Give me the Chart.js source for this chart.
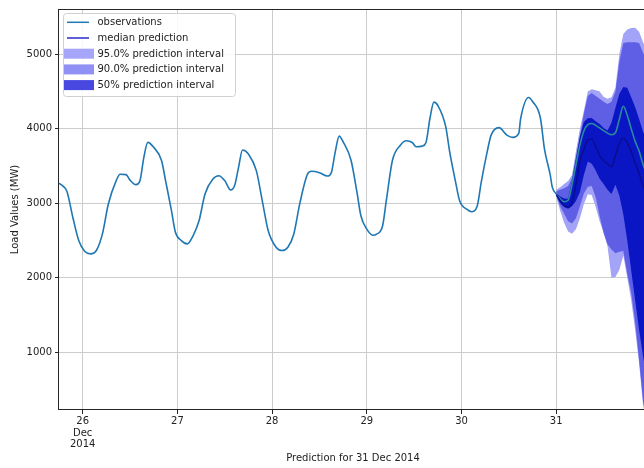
<!DOCTYPE html>
<html>
<head>
<meta charset="utf-8">
<script src="https://cdn.jsdelivr.net/npm/chart.js@4.4.0/dist/chart.umd.min.js"></script>
<style>
  html, body { margin: 0; padding: 0; background: #fff; overflow: hidden; }
  #wrap { width: 644px; height: 468px; overflow: hidden; }
  canvas { display: block; }
</style>
</head>
<body>
<div id="wrap"><canvas id="chart" width="656" height="468"></canvas></div>
<script>
// hours counted from 26 Dec 2014 00:00
const obsHours = [-6, -5, -4, -2.5, -1, 0.5, 2, 3.5, 5, 6.5, 8.5, 9.5, 11, 12, 13.5, 14.5, 15.5, 16.5, 18, 20,
  21, 22.5, 23.5, 25, 26.5, 28, 29.5, 31, 33, 34.5, 36, 37.5, 38.5, 39.5, 40.5, 42, 44, 45.5, 47, 49,
  50.5, 52, 53.5, 55, 57, 58, 60, 62, 63, 64, 65, 66, 68, 69.5, 70.5, 72, 73.5, 74.5, 76, 77,
  78.5, 80.5, 82, 83.5, 84.5, 86, 87, 88, 89, 90, 92, 93, 94.5, 95.5, 97.5, 98.5, 100, 101, 102.5, 103.5,
  105.5, 107.5, 109, 110.5, 111, 113, 114, 116, 117, 118.5, 119, 120,
  121, 122, 123, 124, 125, 126, 127, 128, 129, 130, 131, 132, 133, 134, 135, 136, 137, 138, 139, 140, 141, 142, 143];
const obsLoad = [3268, 3230, 3160, 2812, 2500, 2357, 2321, 2370, 2589, 2990, 3304, 3390, 3384, 3310, 3250, 3300, 3616, 3817, 3750, 3571,
  3304, 2902, 2612, 2500, 2455, 2567, 2768, 3125, 3326, 3370, 3304, 3178, 3237, 3482, 3714, 3661, 3438, 3036, 2634, 2411,
  2366, 2411, 2589, 2991, 3393, 3429, 3410, 3365, 3410, 3689, 3901, 3824, 3577, 3149, 2833, 2653, 2572, 2586, 2698, 3059,
  3577, 3779, 3838, 3815, 3757, 3766, 3815, 4140, 4356, 4311, 4027, 3689, 3284, 3036, 2914, 2887, 2968, 3284, 3689, 3914,
  4014, 3914, 3883, 3937, 4140, 4419, 4365, 4140, 3734, 3374, 3216, 3126,
  3060, 3020, 3040, 3250, 3520, 3780, 3970, 4055, 4070, 4045, 4010, 3975, 3940, 3918, 3945, 4130, 4300, 4180, 4000, 3830, 3700, 3520, 3380];

const bandHours = [120, 121, 122, 123, 124, 125, 126, 127, 128, 129, 130, 131, 132, 133, 134, 135, 136, 137, 138, 139, 140, 141, 142, 143];
const median = [3116, 3040, 2970, 2950, 3010, 3250, 3560, 3720, 3850, 3860, 3760, 3640, 3570, 3530, 3490, 3640, 3800, 3880, 3810, 3690, 3540, 3400, 3240, 3100];
const up95 = [3180, 3215, 3260, 3300, 3380, 3700, 4000, 4240, 4500, 4530, 4515, 4500, 4430, 4400, 4420, 4550, 5000, 5270, 5330, 5350, 5355, 5300, 5160, 5050];
const up90 = [3160, 3180, 3200, 3230, 3340, 3620, 3900, 4200, 4440, 4480, 4440, 4400, 4360, 4330, 4360, 4500, 4900, 5150, 5160, 5160, 5160, 5150, 5020, 4900];
const up50 = [3134, 3090, 3065, 3060, 3300, 3600, 3900, 4090, 4140, 4145, 4100, 4063, 4010, 3975, 4080, 4280, 4470, 4560, 4550, 4420, 4290, 4130, 3960, 3840];
const lo50 = [3100, 3000, 2950, 2925, 2960, 3030, 3150, 3380, 3560, 3530, 3440, 3330, 3260, 3180, 3126, 3250, 3100, 2850, 2500, 2100, 1700, 1300, 950, 650];
const lo90 = [3110, 2960, 2860, 2760, 2730, 2800, 2960, 3130, 3220, 3230, 3080, 2830, 2600, 2450, 2380, 2330, 2350, 2360, 2050, 1800, 1400, 900, 350, 50];
const lo95 = [3080, 2900, 2740, 2620, 2590, 2650, 2800, 2990, 3120, 3110, 2950, 2760, 2610, 2420, 2000, 2010, 2110, 2300, 2000, 1700, 1300, 850, 300, 0];

const tickHours = [0, 24, 48, 72, 96, 120];
const tickDays = ['26', '27', '28', '29', '30', '31'];
const firstTickExtra = ['Dec', '2014'];
const yTicks = [1000, 2000, 3000, 4000, 5000];
const legendLabels = ['observations', 'median prediction', '95.0% prediction interval', '90.0% prediction interval', '50% prediction interval'];

const FONT = '"DejaVu Sans", sans-serif';
const obsBlue = '#1f77b4';
const obsTeal = '#2a8a9e';
const medColor = '#0c0c8c';
const medLegend = '#2a2acc';
const band95 = '#a3a3f7', band90 = '#5f5fe6', band50 = '#0a16c4';
const leg95 = '#a5a5fa', leg90 = '#9090f5', leg50 = '#4848e0';

const pts = (xs, ys) => xs.map((x, i) => ({ x: x, y: ys[i] }));

// spines on top of the data
const framePlugin = {
  id: 'frame',
  afterDatasetsDraw(chart) {
    const { ctx, chartArea: a } = chart;
    ctx.save();
    ctx.strokeStyle = '#262626';
    ctx.lineWidth = 1;
    ctx.strokeRect(Math.round(a.left) - 0.5, Math.round(a.top) + 0.5, Math.round(a.right - a.left) + 1, Math.round(a.bottom - a.top) - 1);
    ctx.restore();
  }
};

// legend box drawn inside the plot, upper left
const legendPlugin = {
  id: 'boxLegend',
  afterDraw(chart) {
    const ctx = chart.ctx;
    ctx.save();
    const x = 63.5, y = 13.5, w = 172, h = 83, r = 3;
    ctx.beginPath();
    ctx.moveTo(x + r, y);
    ctx.arcTo(x + w, y, x + w, y + h, r);
    ctx.arcTo(x + w, y + h, x, y + h, r);
    ctx.arcTo(x, y + h, x, y, r);
    ctx.arcTo(x, y, x + w, y, r);
    ctx.closePath();
    ctx.fillStyle = 'rgba(255,255,255,0.85)';
    ctx.fill();
    ctx.strokeStyle = '#d0d0d0';
    ctx.lineWidth = 1;
    ctx.stroke();

    ctx.font = '10px ' + FONT;
    ctx.textBaseline = 'middle';
    const handles = [obsBlue, medLegend, leg95, leg90, leg50];
    legendLabels.forEach((label, i) => {
      const cy = 22.3 + i * 15.7;
      if (i < 2) {
        ctx.strokeStyle = handles[i];
        ctx.lineWidth = 1.5;
        ctx.beginPath();
        ctx.moveTo(67, cy);
        ctx.lineTo(89, cy);
        ctx.stroke();
      } else {
        ctx.fillStyle = handles[i];
        ctx.fillRect(64, cy - 5, 30, 10);
      }
      ctx.fillStyle = '#222';
      ctx.fillText(label, 97.5, cy + 0.5);
    });
    ctx.restore();
  }
};

const noLine = 'rgba(0,0,0,0)';
const bandSet = (data, fillTarget, color, order) => ({
  data: data,
  borderColor: noLine,
  borderWidth: 0,
  backgroundColor: color,
  fill: fillTarget === null ? false : fillTarget,
  pointRadius: 0,
  tension: 0,
  order: order
});

new Chart(document.getElementById('chart'), {
  type: 'line',
  data: {
    datasets: [
      {
        label: 'observations',
        data: pts(obsHours, obsLoad),
        borderColor: obsBlue,
        borderWidth: 1.6,
        pointRadius: 0,
        fill: false,
        cubicInterpolationMode: 'monotone',
        segment: { borderColor: c => c.p0.parsed.x >= 120 ? obsTeal : obsBlue },
        order: 1
      },
      {
        label: 'median prediction',
        data: pts(bandHours, median),
        borderColor: medColor,
        borderWidth: 1.4,
        pointRadius: 0,
        fill: false,
        cubicInterpolationMode: 'monotone',
        order: 0
      },
      bandSet(pts(bandHours, up50), 3, band50, 2),
      bandSet(pts(bandHours, lo50), null, band50, 2),
      bandSet(pts(bandHours, up90), 5, band90, 3),
      bandSet(pts(bandHours, lo90), null, band90, 3),
      bandSet(pts(bandHours, up95), 7, band95, 4),
      bandSet(pts(bandHours, lo95), null, band95, 4)
    ]
  },
  options: {
    responsive: false,
    animation: false,
    devicePixelRatio: 1,
    layout: { padding: { left: 0, top: 8, right: 9, bottom: 0 } },
    plugins: { legend: { display: false }, tooltip: { enabled: false } },
    scales: {
      x: {
        type: 'linear',
        min: -6,
        max: 143,
        border: { display: false },
        grid: { color: '#cccccc', lineWidth: 1, tickColor: '#262626', tickLength: 4, tickWidth: 1 },
        afterBuildTicks: s => { s.ticks = tickHours.map(v => ({ value: v })); },
        afterFit: s => { s.height = 58; },
        ticks: {
          autoSkip: false,
          maxRotation: 0,
          padding: 2,
          color: '#222',
          font: { family: FONT, size: 10, lineHeight: 1.15 },
          callback: v => {
            const i = tickHours.indexOf(v);
            return i === 0 ? [tickDays[0]].concat(firstTickExtra) : tickDays[i];
          }
        },
        title: {
          display: true,
          text: 'Prediction for 31 Dec 2014',
          color: '#222',
          font: { family: FONT, size: 10 },
          padding: { top: 0, bottom: 4 }
        }
      },
      y: {
        min: 228,
        max: 5605,
        border: { display: false },
        grid: { color: '#cccccc', lineWidth: 1, tickColor: '#262626', tickLength: 4, tickWidth: 1 },
        afterBuildTicks: s => { s.ticks = yTicks.map(v => ({ value: v })); },
        afterFit: s => { s.width = 59; },
        ticks: {
          padding: 3,
          color: '#222',
          font: { family: FONT, size: 10 },
          callback: v => String(v)
        },
        title: {
          display: true,
          text: 'Load Values (MW)',
          color: '#222',
          font: { family: FONT, size: 10 },
          padding: { top: 9, bottom: 0 }
        }
      }
    }
  },
  plugins: [framePlugin, legendPlugin]
});
</script>
</body>
</html>
